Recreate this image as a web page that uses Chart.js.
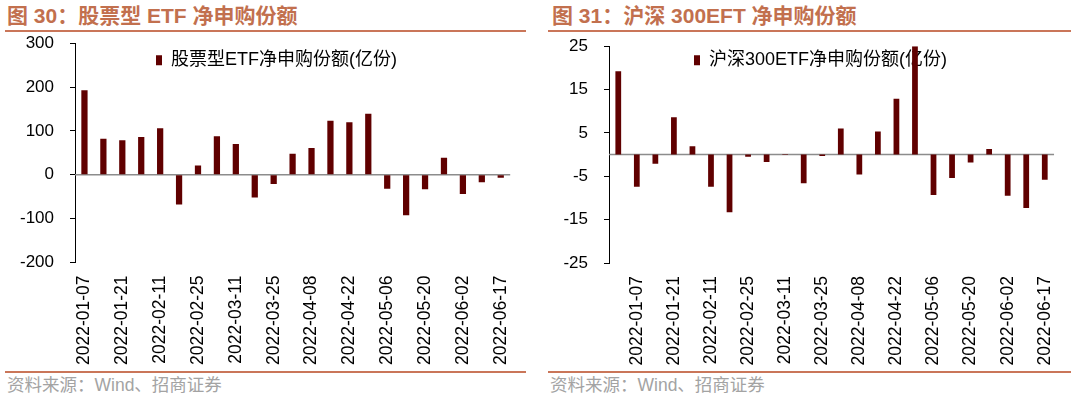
<!DOCTYPE html>
<html>
<head>
<meta charset="utf-8">
<script src="https://cdn.jsdelivr.net/npm/chart.js@4/dist/chart.umd.min.js"></script>
<style>
    body { margin: 0; width: 1079px; height: 399px; background: #fff; position: relative; overflow: hidden; font-family: "Liberation Sans", "Noto Sans CJK SC", sans-serif; }
    .title { position: absolute; top: 4px; font-size: 21px; line-height: 24px; font-weight: bold; color: #C2704E; white-space: nowrap; }
    .rule { position: absolute; height: 2px; background: #CA7659; }
    .src { position: absolute; top: 375px; font-size: 17.5px; line-height: 21px; color: #A3A3A3; white-space: nowrap; }
    canvas { position: absolute; }
</style>
</head>
<body>
<div class="title" style="left:7px">图 30：股票型 ETF 净申购份额</div>
<div class="rule" style="left:5px;width:521px;top:29.5px"></div>
<div class="title" style="left:552px">图 31：沪深 300EFT 净申购份额</div>
<div class="rule" style="left:548px;width:523px;top:29.5px"></div>

<canvas id="stockChart" width="535" height="353" style="left:0px;top:17px"></canvas>
<canvas id="hs300Chart" width="539" height="350" style="left:540px;top:20px"></canvas>

<div class="rule" style="left:5px;width:521px;top:371px"></div>
<div class="rule" style="left:548px;width:523px;top:371px"></div>
<div class="src" style="left:7px">资料来源：Wind、招商证券</div>
<div class="src" style="left:550px">资料来源：Wind、招商证券</div>

<script>
// weekly dates and net subscriptions (亿份)
const stockDates = ['2022-01-07', '2022-01-14', '2022-01-21', '2022-01-28', '2022-02-11', '2022-02-18',
    '2022-02-25', '2022-03-04', '2022-03-11', '2022-03-18', '2022-03-25', '2022-04-01', '2022-04-08',
    '2022-04-15', '2022-04-22', '2022-04-29', '2022-05-06', '2022-05-13', '2022-05-20', '2022-05-27',
    '2022-06-02', '2022-06-10', '2022-06-17'];
const stockFlow = [193, 82, 79, 86, 106, -68, 21, 88, 70, -52, -21, 48, 61, 123, 120, 139, -32, -92, -33, 39, -44, -17, -7];
const stockTicks = [300, 200, 100, 0, -100, -200];

const hs300Dates = ['2021-12-31'].concat(stockDates);
const hs300Flow = [19.2, -7.4, -2.1, 8.6, 1.9, -7.4, -13.3, -0.5, -1.7, -0.1, -6.6, -0.3, 6.0, -4.6, 5.3, 12.9, 25, -9.3, -5.4, -1.8, 1.3, -9.5, -12.3, -5.8];
const hs300Ticks = [25, 15, 5, -5, -15, -25];

const barColor = '#600000';

Chart.defaults.font.family = '"Liberation Sans", "Noto Sans CJK SC", sans-serif';
Chart.defaults.color = '#000';

// grey line at value 0
const zeroLine = {
    id: 'zeroLine',
    beforeDatasetsDraw(chart) {
        const { ctx, chartArea, scales } = chart;
        const y = scales.y.getPixelForValue(0);
        ctx.save();
        ctx.strokeStyle = '#8c8c8c';
        ctx.lineWidth = 1.5;
        ctx.beginPath();
        ctx.moveTo(chartArea.left, y);
        ctx.lineTo(chartArea.right, y);
        ctx.stroke();
        ctx.restore();
    }
};

// put the legend inside the plot, where the report has it
const legendShift = {
    id: 'legendShift',
    afterLayout(chart, args, opts) {
        chart.legend.left = chart.chartArea.left + opts.x;
        chart.legend.top = chart.chartArea.top + opts.y;
    }
};

function makeChart(id, labels, values, tickValues, name, cfg) {
    return new Chart(document.getElementById(id).getContext('2d'), {
        type: 'bar',
        data: {
            labels: labels,
            datasets: [{
                label: name,
                data: values,
                backgroundColor: barColor,
                borderWidth: 0,
                barPercentage: cfg.barPct,
                categoryPercentage: 1
            }]
        },
        options: {
            responsive: false,
            animation: false,
            devicePixelRatio: 1,
            layout: { padding: { top: 0, right: cfg.padRight, bottom: 0, left: 0 } },
            plugins: {
                legend: {
                    position: 'chartArea',
                    fullSize: false,
                    align: 'start',
                    labels: { boxWidth: 6, boxHeight: 10, padding: 8, font: { size: 18 }, color: '#000' }
                },
                tooltip: { enabled: false },
                legendShift: cfg.legend
            },
            scales: {
                x: {
                    grid: { display: false, drawTicks: false },
                    border: { display: false },
                    afterFit: (scale) => { scale.height = cfg.xHeight; },
                    ticks: {
                        autoSkip: false,
                        maxRotation: 90,
                        minRotation: 90,
                        padding: 13,
                        font: { size: 17.5 },
                        color: '#000',
                        callback: function(val, i) {
                            return i % 2 === cfg.labelOdd ? labels[i] : '';
                        }
                    }
                },
                y: {
                    min: tickValues[tickValues.length - 1],
                    max: tickValues[0],
                    afterBuildTicks: (scale) => { scale.ticks = tickValues.map(v => ({ value: v })); },
                    afterFit: (scale) => { scale.width = cfg.yWidth; },
                    grid: { drawOnChartArea: false, drawTicks: true, tickLength: 5, color: '#000' },
                    border: { display: true, color: '#000', width: 1 },
                    ticks: { padding: 16, font: { size: 17 }, color: '#000' }
                }
            }
        },
        plugins: [zeroLine, legendShift]
    });
}

makeChart('stockChart', stockDates, stockFlow, stockTicks, '股票型ETF净申购份额(亿份)', {
    barPct: 0.33, padRight: 12, xHeight: 107.5, yWidth: 75, labelOdd: 0,
    legend: { x: 73, y: 0 }
});

makeChart('hs300Chart', hs300Dates, hs300Flow, hs300Ticks, '沪深300ETF净申购份额(亿份)', {
    barPct: 0.31, padRight: 11, xHeight: 107, yWidth: 69, labelOdd: 1,
    legend: { x: 77, y: -3 }
});
</script>
</body>
</html>
